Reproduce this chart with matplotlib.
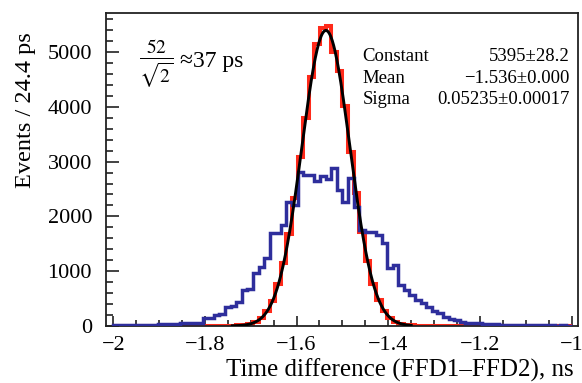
import numpy as np
import matplotlib
matplotlib.use("Agg")
import matplotlib.pyplot as plt
from matplotlib.ticker import MultipleLocator, FuncFormatter

# histogram binning (82 bins between -2 and -1 ns)
x_lo, x_hi, n_bins = -2.0, -1.0, 82

# red histogram (FFD1-FFD2 after correction), counts per bin
red_counts = [0, 0, 0, 0, 0, 0, 0, 0, 0, 0,
              0, 0, 0, 0, 0, 0, 0, 0, 0, 0,
              2, 4, 8, 17, 37, 80, 150, 270, 460, 760,
              1150, 1680, 2330, 3080, 3800, 4550, 5150, 5440, 5470, 5010,
              4650, 4020, 3180, 2420, 1720, 1190, 760, 470, 280, 150,
              80, 40, 19, 8, 4, 2, 0, 0, 0, 0,
              0, 0, 0, 0, 0, 0, 0, 0, 0, 0,
              0, 0, 0, 0, 0, 0, 0, 0, 0, 0,
              0, 0]

# blue histogram (raw), counts per bin
blue_counts = [10, 15, 10, 20, 15, 20, 20, 25, 30, 30,
               35, 40, 45, 50, 50, 60, 140, 150, 200, 210,
               350, 360, 440, 660, 680, 960, 1080, 1235, 1690, 1700,
               1840, 2270, 2210, 2815, 2760, 2750, 2650, 2735, 2690, 2875,
               2480, 2270, 2710, 2180, 1750, 1720, 1720, 1660, 1510, 1050,
               1110, 750, 660, 565, 475, 415, 350, 275, 230, 170,
               130, 110, 80, 60, 50, 45, 40, 30, 30, 25,
               20, 20, 15, 15, 10, 15, 10, 10, 10, 5,
               10, 5]

# gaussian fit parameters (from the stats box)
fit_const = 5395
fit_mean = -1.536
fit_sigma = 0.05235
fit_range = (-1.74, -1.35)

stat_names = ["Constant", "Mean", "Sigma"]
stat_values = ["5395\u00b128.2", "\u22121.536\u00b10.000", "0.05235\u00b10.00017"]

plt.rcParams['font.family'] = ['Liberation Serif', 'DejaVu Serif']
plt.rcParams['mathtext.fontset'] = 'stix'

fig = plt.figure(figsize=(5.82, 3.83), dpi=100)
ax = fig.add_axes([0.182, 0.149, 0.811, 0.818])

edges = np.linspace(x_lo, x_hi, n_bins + 1)
ax.stairs(red_counts, edges, color='#ff2a1a', linewidth=2.9, zorder=2)
ax.stairs(blue_counts, edges, color='#2e2e9c', linewidth=2.5, zorder=3)

xf = np.linspace(fit_range[0], fit_range[1], 400)
yf = fit_const * np.exp(-0.5 * ((xf - fit_mean) / fit_sigma) ** 2)
ax.plot(xf, yf, color='black', linewidth=2.1, zorder=4)

ax.set_xlim(-2.016, -0.986)
ax.set_ylim(0, 5720)

ax.xaxis.set_major_locator(MultipleLocator(0.2))
ax.xaxis.set_minor_locator(MultipleLocator(0.05))
ax.yaxis.set_major_locator(MultipleLocator(1000))
ax.yaxis.set_minor_locator(MultipleLocator(200))
ax.xaxis.set_major_formatter(FuncFormatter(lambda v, p: ('%g' % round(v, 2)).replace('-', '\u2212')))

ax.tick_params(which='both', direction='in', top=False, right=False,
               labelsize=16, color='#222222', width=1.2)
ax.tick_params(axis='x', which='major', length=7, pad=7)
ax.tick_params(axis='x', which='minor', length=4)
ax.tick_params(axis='y', which='major', length=9, pad=10)
ax.tick_params(axis='y', which='minor', length=5)
for s in ax.spines.values():
    s.set_linewidth(1.3)
    s.set_color('#222222')

fig.text(0.043, 0.915, "Events / 24.4 ps", rotation=90, ha='center', va='top', fontsize=17.5)
fig.text(0.985, 0.016, "Time difference (FFD1\u2013FFD2), ns", ha='right', va='baseline', fontsize=18)

ax.text(0.07, 0.84, r"$\frac{52}{\sqrt{2}}$", transform=ax.transAxes,
        ha='left', va='center', fontsize=20)
ax.text(0.157, 0.845, "\u224837 ps", transform=ax.transAxes,
        ha='left', va='center', fontsize=17)

for i in range(3):
    yy = 0.86 - i * 0.069
    ax.text(0.544, yy, stat_names[i], transform=ax.transAxes, ha='left', va='center', fontsize=13.5)
    ax.text(0.982, yy, stat_values[i], transform=ax.transAxes, ha='right', va='center', fontsize=13.5)

fig.savefig("out.png", dpi=100)
